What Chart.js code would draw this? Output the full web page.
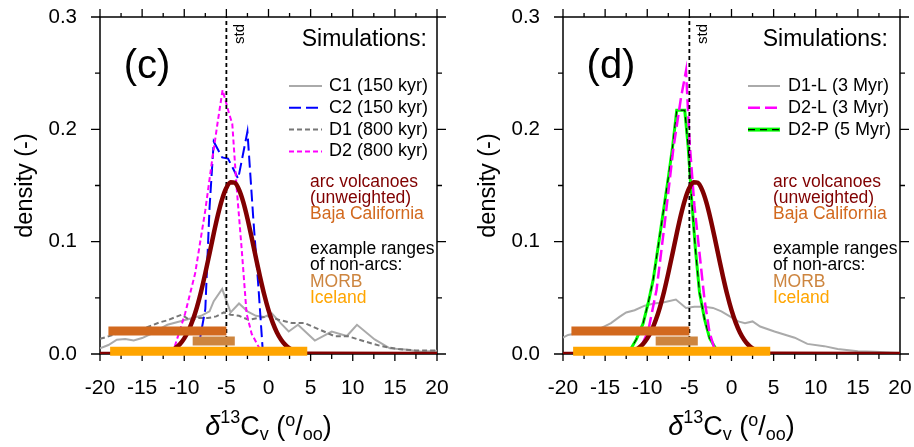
<!DOCTYPE html>
<html>
<head>
<meta charset="utf-8">
<script src="https://cdn.jsdelivr.net/npm/chart.js@4.4.0/dist/chart.umd.min.js"></script>
<style>
  html, body { margin: 0; padding: 0; background: #fff; overflow: hidden; }
  #wrap { position: relative; width: 914px; height: 447px; }
  canvas { position: absolute; top: 0; }
  #panelC { left: 0; }
  #panelD { left: 463px; }
</style>
</head>
<body>
<div id="wrap">
  <canvas id="panelC" width="451" height="447" style="width:451px;height:447px"></canvas>
  <canvas id="panelD" width="451" height="447" style="width:451px;height:447px"></canvas>
</div>
<script>
// axis ticks
const xTicks = [-20, -15, -10, -5, 0, 5, 10, 15, 20];
const yTicks = [0, 0.1, 0.2, 0.3];

// arc volcanoes (unweighted), same curve in both panels
const arcX = [-20, -13, -12, -11.5, -11, -10.5, -10, -9.5, -9, -8.5, -8, -7.5, -7, -6.5, -6, -5.5, -5, -4.5, -4, -3.5, -3, -2.5, -2, -1.5, -1, -0.5, 0, 0.5, 1, 1.5, 2, 2.5, 3, 4, 5, 20];
const arcY = [0, 0.0005, 0.0019, 0.0033, 0.0055, 0.0089, 0.0139, 0.0208, 0.030, 0.0416, 0.0557, 0.072, 0.0895, 0.1073, 0.1239, 0.1379, 0.1479, 0.1530, 0.1524, 0.1463, 0.1354, 0.1207, 0.1037, 0.0859, 0.0686, 0.0527, 0.039, 0.0279, 0.0192, 0.0127, 0.0081, 0.005, 0.003, 0.0008, 0.0002, 0];

// panel (c)
const c1X = [-20, -19, -18, -17, -16, -15, -14, -13, -12, -11, -10, -9, -8, -7, -6.5, -5.5, -4.5, -3.5, -2.5, -1.5, -0.5, 0.4, 1.5, 2.4, 3.5, 5.5, 7.5, 9.3, 10.5, 12.6, 14.4, 16.2, 18.2, 20];
const c1Y = [0.005, 0.008, 0.0127, 0.0133, 0.012, 0.0142, 0.0178, 0.022, 0.026, 0.028, 0.030, 0.032, 0.034, 0.038, 0.047, 0.058, 0.037, 0.045, 0.038, 0.034, 0.033, 0.036, 0.027, 0.020, 0.026, 0.012, 0.020, 0.016, 0.026, 0.013, 0.005, 0.004, 0.002, 0.003];
const c2X = [-20, -9.2, -8.1, -7.5, -7.0, -6.5, -5.5, -4.8, -3.6, -2.5, -1.8, -1.2, -0.7, -0.4, 20];
const c2Y = [0, 0, 0.015, 0.040, 0.130, 0.189, 0.175, 0.174, 0.156, 0.198, 0.12, 0.06, 0.005, 0, 0];
const d1X = [-20, -19, -18, -17, -16, -15, -14, -13, -12, -11, -10.3, -9.3, -8.3, -7.2, -6.2, -5.3, -4.5, -3.5, -2.4, -1.2, 0, 1.2, 2.8, 4.3, 6.1, 7.9, 9.5, 11.5, 13.4, 15.4, 17.4, 20];
const d1Y = [0.0135, 0.0157, 0.018, 0.019, 0.0205, 0.022, 0.025, 0.028, 0.030, 0.033, 0.035, 0.030, 0.032, 0.032, 0.0335, 0.037, 0.035, 0.034, 0.0305, 0.032, 0.0335, 0.0305, 0.0275, 0.0275, 0.0216, 0.0157, 0.0157, 0.011, 0.007, 0.0044, 0.0032, 0.003];
const d2X = [-20, -11.5, -11.2, -9.9, -8.7, -7.5, -6.7, -6.0, -5.45, -4.6, -4.3, -3.8, -3.2, -2.6, -2.0, -1.0, -0.5, 20];
const d2Y = [0, 0, 0.005, 0.036, 0.072, 0.128, 0.172, 0.208, 0.235, 0.212, 0.205, 0.150, 0.095, 0.036, 0.018, 0.004, 0, 0];

// panel (d)
const d1lX = [-20, -19.4, -18.3, -16.7, -15.5, -14.3, -13.3, -12.5, -11.5, -10.3, -9.2, -8.0, -6.6, -5.4, -4.4, -3.2, -2.2, -1.2, -0.3, 0.8, 1.6, 2.5, 3.4, 5.1, 7.5, 9.0, 11.0, 12.6, 15.0, 17.0, 20];
const d1lY = [0.0145, 0.017, 0.0185, 0.020, 0.023, 0.0275, 0.033, 0.037, 0.039, 0.043, 0.045, 0.046, 0.0485, 0.041, 0.042, 0.042, 0.041, 0.038, 0.034, 0.029, 0.0275, 0.029, 0.0245, 0.020, 0.0145, 0.009, 0.007, 0.0045, 0.0025, 0.002, 0.001];
const d2lX = [-20, -11.2, -10.9, -9.9, -8.9, -7.9, -6.9, -6.0, -5.4, -4.95, -4.4, -3.8, -3.2, -2.6, -2.0, -1.6, 20];
const d2lY = [0, 0, 0.004, 0.02, 0.057, 0.118, 0.183, 0.228, 0.252, 0.186, 0.132, 0.09, 0.048, 0.019, 0.004, 0, 0];
const d2pX = [-20, -12.3, -11.3, -10.5, -9.9, -9.3, -8.5, -7.5, -7.0, -6.5, -5.55, -5.15, -4.75, -4.3, -3.8, -3.2, -2.6, -1.8, -1.3, 20];
const d2pY = [0, 0, 0.013, 0.027, 0.045, 0.066, 0.106, 0.157, 0.184, 0.217, 0.217, 0.185, 0.14, 0.095, 0.055, 0.031, 0.014, 0.004, 0, 0];

// std value and observed ranges
const stdX = -5;
const bajaRange = [-19, -5], bajaLevel = 0.0205;
const morbRange = [-9, -4], morbLevel = 0.0115;
const icelandRange = [-18.8, 4.6], icelandLevel = 0.0025;

const FONT = "'Liberation Sans', Arial, Helvetica, sans-serif";
const DARKRED = '#800000', BAJA = '#d2691e', MORB = '#cd853f', ICELAND = '#ffa500';

function pairs(xs, ys) {
  return xs.map((x, i) => ({ x: x, y: ys[i] }));
}

function curve(xs, ys, color, width, dash, extra) {
  return Object.assign({
    data: pairs(xs, ys), showLine: true, borderColor: color, borderWidth: width,
    borderDash: dash, pointRadius: 0, fill: false, tension: 0
  }, extra || {});
}

function rangeBar(range, level, color) {
  return curve(range, [level, level], color, 9, [], { clip: false, borderCapStyle: 'butt' });
}

// frame and tick marks, drawn under the data
const frameTicks = {
  id: 'frameTicks',
  beforeDatasetsDraw(chart) {
    const { ctx, chartArea: a, scales: { x, y } } = chart;
    ctx.save();
    ctx.strokeStyle = '#000';
    ctx.lineWidth = 1.5;
    ctx.strokeRect(a.left, a.top, a.right - a.left, a.bottom - a.top);
    ctx.lineWidth = 1.3;
    ctx.beginPath();
    for (let v = -20; v <= 20; v += 2.5) {
      const px = x.getPixelForValue(v);
      const major = v % 5 === 0;
      ctx.moveTo(px, a.bottom); ctx.lineTo(px, a.bottom + (major ? 7 : 5));
      ctx.moveTo(px, a.top); ctx.lineTo(px, a.top - (major ? 8 : 4));
    }
    for (let i = 0; i <= 6; i++) {
      const py = y.getPixelForValue(i * 0.05);
      const major = i % 2 === 0;
      ctx.moveTo(a.left, py); ctx.lineTo(a.left - (major ? 9 : 5), py);
      ctx.moveTo(a.right, py); ctx.lineTo(a.right + (major ? 9 : 5), py);
    }
    ctx.stroke();
    ctx.restore();
  }
};

// labels, legend and axis titles
const annotations = {
  id: 'annotations',
  afterDraw(chart) {
    const o = chart.options.plugins.annotations;
    const { ctx, chartArea: a, scales: { x } } = chart;
    ctx.save();
    ctx.fillStyle = '#000';
    ctx.textBaseline = 'middle';

    ctx.font = '40px ' + FONT;
    ctx.textAlign = 'center';
    ctx.fillText(o.label, o.labelX, 67);

    // std label next to the vertical line
    ctx.save();
    ctx.translate(x.getPixelForValue(stdX) + 13, 34);
    ctx.rotate(-Math.PI / 2);
    ctx.font = '15px ' + FONT;
    ctx.fillText('std', 0, 0);
    ctx.restore();

    ctx.font = '23px ' + FONT;
    ctx.textAlign = 'right';
    ctx.fillText('Simulations:', o.simRight, 40);

    ctx.textAlign = 'left';
    ctx.font = '18px ' + FONT;
    o.items.forEach((it, i) => {
      const yy = 86 + i * 21.8;
      ctx.save();
      if (it.under) {
        ctx.strokeStyle = it.under; ctx.lineWidth = 4; ctx.setLineDash([]);
        ctx.beginPath(); ctx.moveTo(o.sample[0], yy); ctx.lineTo(o.sample[1], yy); ctx.stroke();
      }
      ctx.strokeStyle = it.color; ctx.lineWidth = it.width; ctx.setLineDash(it.dash);
      ctx.beginPath(); ctx.moveTo(o.sample[0], yy); ctx.lineTo(o.sample[1], yy); ctx.stroke();
      ctx.restore();
      ctx.fillText(it.text, o.textX, yy);
    });

    ctx.font = '17.5px ' + FONT;
    const notes = [
      ['arc volcanoes', DARKRED, 182], ['(unweighted)', DARKRED, 198], ['Baja California', BAJA, 214],
      ['example ranges', '#000', 249], ['of non-arcs:', '#000', 265], ['MORB', MORB, 282], ['Iceland', ICELAND, 298]
    ];
    notes.forEach(n => { ctx.fillStyle = n[1]; ctx.fillText(n[0], o.notesX, n[2]); });

    // y title
    ctx.fillStyle = '#000';
    ctx.save();
    ctx.translate(26, (a.top + a.bottom) / 2);
    ctx.rotate(-Math.PI / 2);
    ctx.textAlign = 'center';
    ctx.font = '23.5px ' + FONT;
    ctx.fillText('density (-)', 0, 0);
    ctx.restore();

    // x title: delta 13 C v (o/oo)
    const big = '27px ' + FONT, small = '18px ' + FONT;
    const parts = [
      ['\u03b4', 'italic ' + big, 0], ['13', small, -12], ['C', big, 0], ['v', small, 5],
      [' (', big, 0], ['o', small, -9], ['/', big, 0], ['oo', small, 5], [')', big, 0]
    ];
    ctx.textBaseline = 'alphabetic';
    ctx.textAlign = 'left';
    let total = 0;
    parts.forEach(p => { ctx.font = p[1]; total += ctx.measureText(p[0]).width; });
    let cx = (a.left + a.right) / 2 - total / 2;
    parts.forEach(p => {
      ctx.font = p[1];
      ctx.fillText(p[0], cx, 435 + p[2]);
      cx += ctx.measureText(p[0]).width;
    });
    ctx.restore();
  }
};

function makePanel(id, sims, notes) {
  const datasets = [
    rangeBar(icelandRange, icelandLevel, ICELAND),
    rangeBar(morbRange, morbLevel, MORB),
    rangeBar(bajaRange, bajaLevel, BAJA),
    curve(arcX, arcY, DARKRED, 4.5, [], { cubicInterpolationMode: 'monotone' }),
    curve([stdX, stdX], [0, 0.3], '#000', 1.8, [4, 3])
  ].concat(sims);

  return new Chart(document.getElementById(id), {
    type: 'scatter',
    data: { datasets: datasets },
    options: {
      responsive: false,
      animation: false,
      events: [],
      layout: { padding: { top: 17, right: 14, left: 0, bottom: 0 } },
      plugins: { legend: { display: false }, tooltip: { enabled: false }, annotations: notes },
      scales: {
        x: {
          type: 'linear', min: -20, max: 20,
          afterBuildTicks: s => { s.ticks = xTicks.map(v => ({ value: v })); },
          afterFit: s => { s.height = 93; s.paddingLeft = 0; s.paddingRight = 0; },
          grid: { display: false, drawTicks: false },
          border: { display: false },
          ticks: { color: '#000', font: { family: FONT, size: 21 }, padding: 22, maxRotation: 0, autoSkip: false, callback: v => String(v) }
        },
        y: {
          type: 'linear', min: 0, max: 0.3,
          afterBuildTicks: s => { s.ticks = yTicks.map(v => ({ value: v })); },
          afterFit: s => { s.width = 100; s.paddingTop = 0; s.paddingBottom = 0; },
          grid: { display: false, drawTicks: false },
          border: { display: false },
          ticks: { color: '#000', font: { family: FONT, size: 20.5 }, padding: 23, callback: v => v.toFixed(1) }
        }
      }
    },
    plugins: [frameTicks, annotations]
  });
}

makePanel('panelC', [
  curve(d2X, d2Y, '#ff00ff', 2, [5, 3]),
  curve(c2X, c2Y, '#0000ff', 2, [12, 5]),
  curve(d1X, d1Y, '#777777', 2, [5, 3]),
  curve(c1X, c1Y, '#aaaaaa', 2, [])
], {
  label: '(c)', labelX: 147, simRight: 427, sample: [289, 322], textX: 329, notesX: 310,
  items: [
    { text: 'C1 (150 kyr)', color: '#aaaaaa', width: 2, dash: [] },
    { text: 'C2 (150 kyr)', color: '#0000ff', width: 2, dash: [12, 5] },
    { text: 'D1 (800 kyr)', color: '#777777', width: 2, dash: [5, 3] },
    { text: 'D2 (800 kyr)', color: '#ff00ff', width: 2, dash: [5, 3] }
  ]
});

makePanel('panelD', [
  curve(d2lX, d2lY, '#ff00ff', 2.5, [12, 5]),
  curve(d2pX, d2pY, '#000', 1, [6, 5]),
  curve(d2pX, d2pY, '#00ff00', 3, []),
  curve(d1lX, d1lY, '#aaaaaa', 2, [])
], {
  label: '(d)', labelX: 148, simRight: 425, sample: [285, 317], textX: 325, notesX: 310,
  items: [
    { text: 'D1-L (3 Myr)', color: '#aaaaaa', width: 2, dash: [] },
    { text: 'D2-L (3 Myr)', color: '#ff00ff', width: 2.5, dash: [12, 5] },
    { text: 'D2-P (5 Myr)', color: '#000', width: 1.2, dash: [7, 5], under: '#00ff00' }
  ]
});
</script>
</body>
</html>
